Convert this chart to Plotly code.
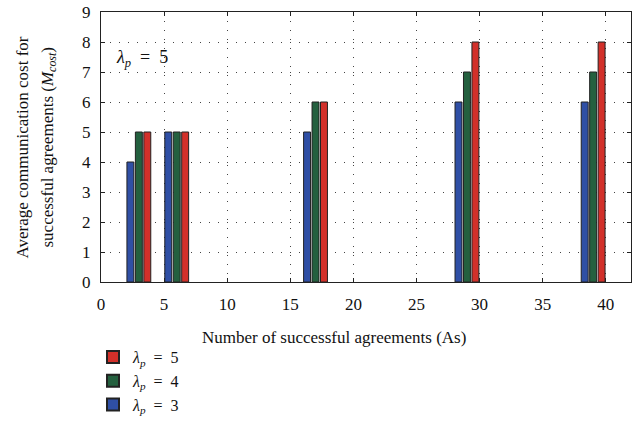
import plotly.graph_objects as go

groups = [3, 6, 17, 29, 39]
lam3 = [4, 5, 5, 6, 6]
lam4 = [5, 5, 6, 7, 7]
lam5 = [5, 5, 6, 8, 8]
SP = "\u00a0"
def lam_label(v):
    return f"<i>λ</i><sub><i>p</i></sub>{SP}{SP}={SP}{SP}{v}"
series_names = [lam_label(3), lam_label(4), lam_label(5)]
colors = ["#2f4fa5", "#24603f", "#d2302a"]
x_ticks = [0, 5, 10, 15, 20, 25, 30, 35, 40]
y_ticks = list(range(0, 10))
x_title = "Number of successful agreements (As)"
y_title_lines = ["Average communication cost for",
                 "successful agreements (<i>M</i><sub><i>cost</i></sub>)"]
note = lam_label(5)

FONT = "Liberation Serif, Times New Roman, DejaVu Serif, serif"
bw = 0.55
shift = 0.67

fig = go.Figure()
for i, (vals, name, col) in enumerate(zip([lam3, lam4, lam5], series_names, colors)):
    fig.add_trace(go.Bar(
        x=groups, y=vals, name=name,
        width=bw, offset=(i - 1) * shift - bw / 2,
        marker=dict(color=col, line=dict(color="#222222", width=1)),
    ))

axis_common = dict(
    showline=True, linecolor="#222222", linewidth=1, mirror="ticks",
    ticks="inside", ticklen=4, tickcolor="#222222",
    showgrid=True, gridcolor="#444444", griddash="1px,8px", gridwidth=1,
    zeroline=False, automargin=False,
    tickfont=dict(family=FONT, size=17, color="#111111"),
)

L, R, T, B = 101, 4, 12, 142
PW, PH = 635 - L - R, 425 - T - B

def px_x(p):
    return (p - L) / PW

def px_y(p):
    return (425 - B - p) / PH

annos = [
    dict(x=px_x(114), y=7.45, xref="paper", yref="y", xanchor="left", yanchor="middle",
         text=note, showarrow=False, font=dict(family=FONT, size=18, color="#111111")),
    dict(x=px_x(334), y=px_y(339), xref="paper", yref="paper", xanchor="center", yanchor="middle",
         text=x_title, showarrow=False, font=dict(family=FONT, size=17, color="#111111")),
    dict(x=px_x(22), y=px_y(148), xref="paper", yref="paper", xanchor="center", yanchor="middle",
         text=y_title_lines[0], textangle=-90, showarrow=False,
         font=dict(family=FONT, size=17, color="#111111")),
    dict(x=px_x(49), y=px_y(148), xref="paper", yref="paper", xanchor="center", yanchor="middle",
         text=y_title_lines[1], textangle=-90, showarrow=False,
         font=dict(family=FONT, size=17, color="#111111")),
]

fig.update_layout(
    width=635, height=425,
    margin=dict(l=L, r=R, t=T, b=B),
    plot_bgcolor="white", paper_bgcolor="white",
    barmode="overlay",
    font=dict(family=FONT, size=17, color="#111111"),
    showlegend=True,
    legend=dict(
        x=px_x(93), y=px_y(422), xanchor="left", yanchor="bottom",
        traceorder="reversed", font=dict(family=FONT, size=16),
        bgcolor="rgba(0,0,0,0)", itemsizing="constant", tracegroupgap=0,
    ),
    xaxis=dict(range=[0, 42], tickvals=x_ticks, ticklabelstandoff=7, **axis_common),
    yaxis=dict(range=[0, 9], tickvals=y_ticks, ticklabelstandoff=6, **axis_common),
    annotations=annos,
)

fig.write_html("out.html", config={"displayModeBar": False},
               post_script="document.body.style.margin='0';document.body.style.padding='0';")
